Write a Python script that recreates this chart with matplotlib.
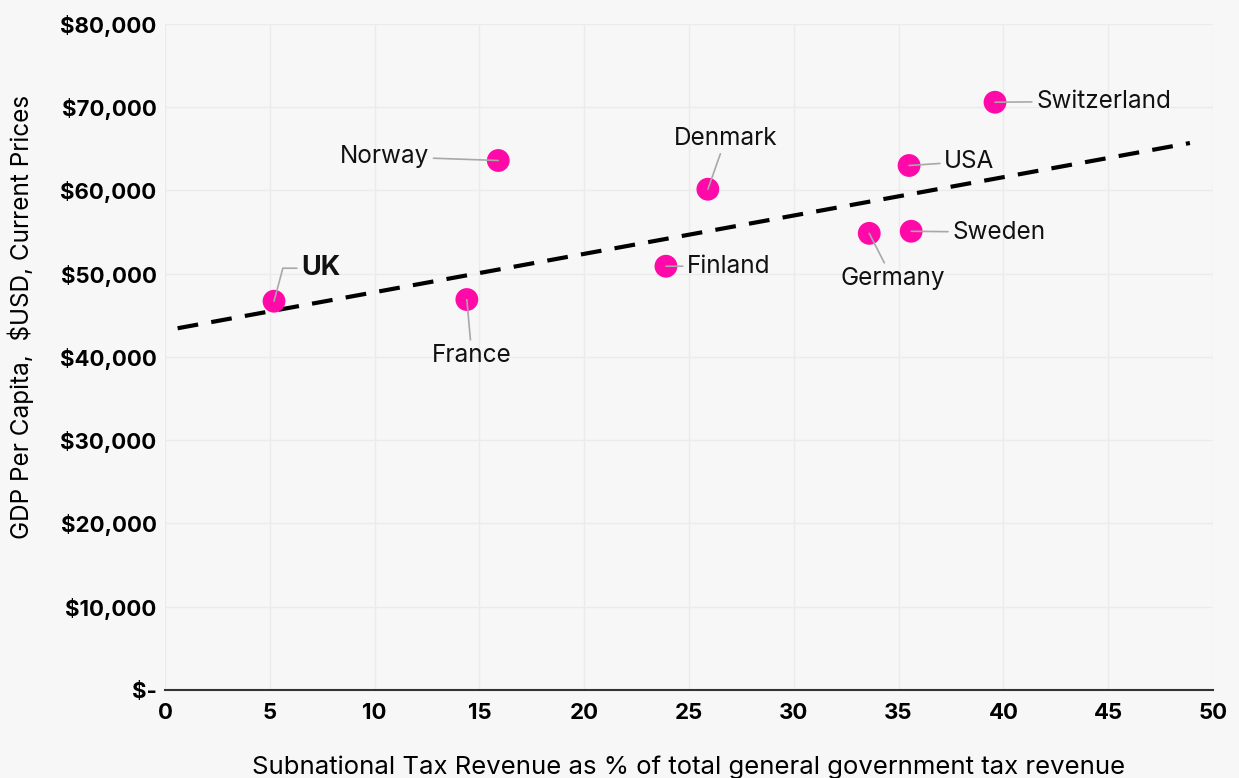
import matplotlib
matplotlib.use("Agg")
import matplotlib.pyplot as plt
from matplotlib.ticker import FuncFormatter

plt.rcParams['font.family'] = ['Inter', 'DejaVu Sans']

# data
countries = ["UK", "France", "Norway", "Finland", "Denmark", "Germany", "Sweden", "USA", "Switzerland"]
tax_share = [5.2, 14.4, 15.9, 23.9, 25.9, 33.6, 35.6, 35.5, 39.6]
gdp = [46700, 46900, 63600, 50900, 60150, 54850, 55100, 63000, 70600]

# trend line as drawn (start / end)
trend_x = [0.6, 48.9]
trend_y = [43450, 65700]

# label offsets in pixels and alignment
label_pos = {
    "UK": (27, 33, "left"),
    "France": (5, -56, "center"),
    "Norway": (-69, 4, "right"),
    "Finland": (21, 0, "left"),
    "Denmark": (18, 51, "center"),
    "Germany": (23, -45, "center"),
    "Sweden": (41, -1, "left"),
    "USA": (35, 4, "left"),
    "Switzerland": (41, 1, "left"),
}

bg = "#f7f7f7"
fig = plt.figure(figsize=(12.39, 7.78), dpi=100, facecolor=bg)
ax = fig.add_axes([0.1332, 0.1131, 0.979 - 0.1332, 0.9692 - 0.1131])
ax.set_facecolor(bg)

ax.plot(trend_x, trend_y, color="black", lw=3, ls=(0, (5, 3.2)), zorder=3)
ax.scatter(tax_share, gdp, s=270, color="#ff09a9", edgecolors="none", zorder=4)

for name, x, y in zip(countries, tax_share, gdp):
    dx, dy, ha = label_pos[name]
    bold = name == "UK"
    ax.annotate(name, xy=(x, y), xytext=(dx, dy), textcoords="offset pixels",
                ha=ha, va="center", fontsize=19.5 if bold else 17.5,
                fontweight="bold" if bold else "normal", color="#111111",
                arrowprops=dict(arrowstyle="-", color="#a8a8a8", lw=1.2,
                                shrinkA=1, shrinkB=0,
                                connectionstyle="angle,angleA=0,angleB=75,rad=0" if bold else "arc3"),
                zorder=5)

ax.set_xlim(0, 50)
ax.set_ylim(0, 80000)
ax.set_xticks(range(0, 51, 5))
ax.set_yticks(range(0, 80001, 10000))
ax.yaxis.set_major_formatter(FuncFormatter(lambda v, p: "$-" if v == 0 else "${:,.0f}".format(v)))
ax.grid(True, color="#ebebeb", lw=1)
ax.set_axisbelow(True)

for s in ["left", "right", "top"]:
    ax.spines[s].set_visible(False)
ax.spines["bottom"].set_color("#333333")
ax.spines["bottom"].set_linewidth(1.5)
ax.tick_params(length=0)
ax.tick_params(axis="y", pad=6)
ax.tick_params(axis="x", pad=9)
for lab in ax.get_xticklabels() + ax.get_yticklabels():
    lab.set_fontsize(16)
    lab.set_fontweight("bold")

ax.set_xlabel("Subnational Tax Revenue as % of total general government tax revenue",
              fontsize=18.5, labelpad=24)
ax.set_ylabel("GDP Per Capita,  $USD, Current Prices", fontsize=17.5, labelpad=14)
ax.yaxis.set_label_coords(-0.125, 0.56)

fig.savefig("out.png", dpi=100, facecolor=bg)
